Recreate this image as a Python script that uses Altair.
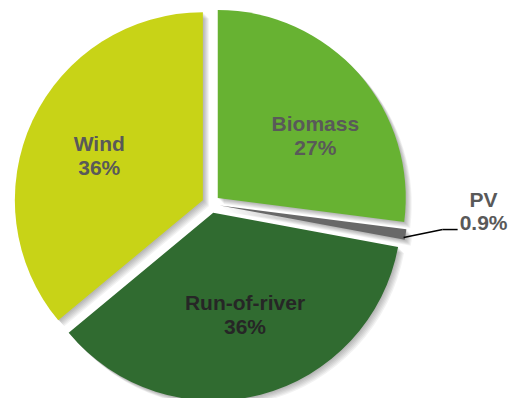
import altair as alt
import pandas as pd

# Shares of renewable generation by source, drawn clockwise from 12 o'clock
sources = ["Biomass", "PV", "Run-of-river", "Wind"]
shares = [27, 0.9, 36, 36]
share_text = ["27%", "0.9%", "36%", "36%"]

slice_colors = ["#67B232", "#686868", "#306B30", "#C8D317"]
text_colors = ["#595959", "#595959", "#262626", "#595959"]

W, H = 511, 398
CX, CY = 211, 204        # pie centre
R = 188                  # outer radius
EXPLODE = 9              # distance each slice is pulled out
LABEL_R = 110            # distance of inside labels from slice apex
LINE_H = 24
FONT = "Liberation Sans"
label_shift = {"Biomass": (15, 12), "Run-of-river": (4, -3), "Wind": (-4, 4)}

df = pd.DataFrame({
    "source": sources,
    "share": shares,
    "pct": share_text,
    "rank": list(range(len(sources))),
})

base = (
    alt.Chart(df)
    .transform_joinaggregate(total="sum(share)")
    .transform_window(cum="sum(share)", sort=[alt.SortField("rank")], frame=[None, 0])
    .transform_calculate(t0="(datum.cum - datum.share) / datum.total * 2 * PI")
    .transform_calculate(t1="datum.cum / datum.total * 2 * PI")
    .transform_calculate(mid="(datum.t0 + datum.t1) / 2")
    .transform_calculate(cx=f"{CX} + {EXPLODE} * sin(datum.mid)")
    .transform_calculate(cy=f"{CY} - {EXPLODE} * cos(datum.mid)")
    .transform_calculate(ex=f"datum.cx + {R} * sin(datum.mid)")
    .transform_calculate(ey=f"datum.cy - {R} * cos(datum.mid)")
)

theta = alt.Theta("t0:Q", scale=None)
theta2 = alt.Theta2("t1:Q")

# soft drop shadow built from a few faint offset copies
shadows = []
for k in [1, 2, 3, 4, 5, 6]:
    shadows.append(
        base.transform_calculate(sx=f"datum.cx + {k}", sy=f"datum.cy + {k}")
        .mark_arc(radius=R, color="#000000", opacity=0.05)
        .encode(
            x=alt.X("sx:Q", scale=None, axis=None),
            y=alt.Y("sy:Q", scale=None, axis=None),
            theta=theta,
            theta2=theta2,
        )
    )

slices = base.mark_arc(radius=R).encode(
    x=alt.X("cx:Q", scale=None, axis=None),
    y=alt.Y("cy:Q", scale=None, axis=None),
    theta=theta,
    theta2=theta2,
    color=alt.Color("source:N", scale=alt.Scale(domain=sources, range=slice_colors), legend=None),
)

shift_x = " : ".join([f"datum.source == '{s}' ? {v[0]}" for s, v in label_shift.items()] + ["0"])
shift_y = " : ".join([f"datum.source == '{s}' ? {v[1]}" for s, v in label_shift.items()] + ["0"])

# two-line labels: first line sits half a line above the label point
inner_labels = (
    base.transform_filter("datum.source != 'PV'")
    .transform_calculate(lx=f"datum.cx + {LABEL_R} * sin(datum.mid) + ({shift_x})")
    .transform_calculate(ly=f"datum.cy - {LABEL_R} * cos(datum.mid) + ({shift_y}) - {LINE_H / 2}")
    .transform_calculate(txt="[datum.source, datum.pct]")
    .mark_text(font=FONT, fontSize=21, fontWeight="bold", lineHeight=LINE_H,
               align="center", baseline="middle")
    .encode(
        x=alt.X("lx:Q", scale=None, axis=None),
        y=alt.Y("ly:Q", scale=None, axis=None),
        text="txt:N",
        fill=alt.Fill("source:N", scale=alt.Scale(domain=sources, range=text_colors), legend=None),
    )
)

pv = base.transform_filter("datum.source == 'PV'")

leader_a = (
    pv.transform_calculate(sx="datum.ex - 2", sy="datum.ey + 3",
                           x2="datum.ex + 37", y2="datum.ey - 5")
    .mark_rule(color="#000000", strokeWidth=1.5)
    .encode(
        x=alt.X("sx:Q", scale=None, axis=None),
        y=alt.Y("sy:Q", scale=None, axis=None),
        x2="x2:Q",
        y2="y2:Q",
    )
)
leader_b = (
    pv.transform_calculate(xa="datum.ex + 37", xb="datum.ex + 52", ya="datum.ey - 5")
    .mark_rule(color="#000000", strokeWidth=1.5)
    .encode(
        x=alt.X("xa:Q", scale=None, axis=None),
        x2="xb:Q",
        y=alt.Y("ya:Q", scale=None, axis=None),
    )
)

pv_label = (
    pv.transform_calculate(lx="datum.ex + 78", ly="datum.ey - 34")
    .transform_calculate(txt="[datum.source, datum.pct]")
    .mark_text(font=FONT, fontSize=21, fontWeight="bold", lineHeight=23,
               align="center", baseline="middle", color="#595959")
    .encode(
        x=alt.X("lx:Q", scale=None, axis=None),
        y=alt.Y("ly:Q", scale=None, axis=None),
        text="txt:N",
    )
)

chart = (
    alt.layer(*shadows, slices, leader_a, leader_b, inner_labels, pv_label)
    .properties(width=W, height=H, background="white", padding=0,
                autosize=alt.AutoSizeParams(type="none"))
    .configure_view(stroke=None)
)

chart.save("out.html", embed_options={"renderer": "svg", "actions": False})
